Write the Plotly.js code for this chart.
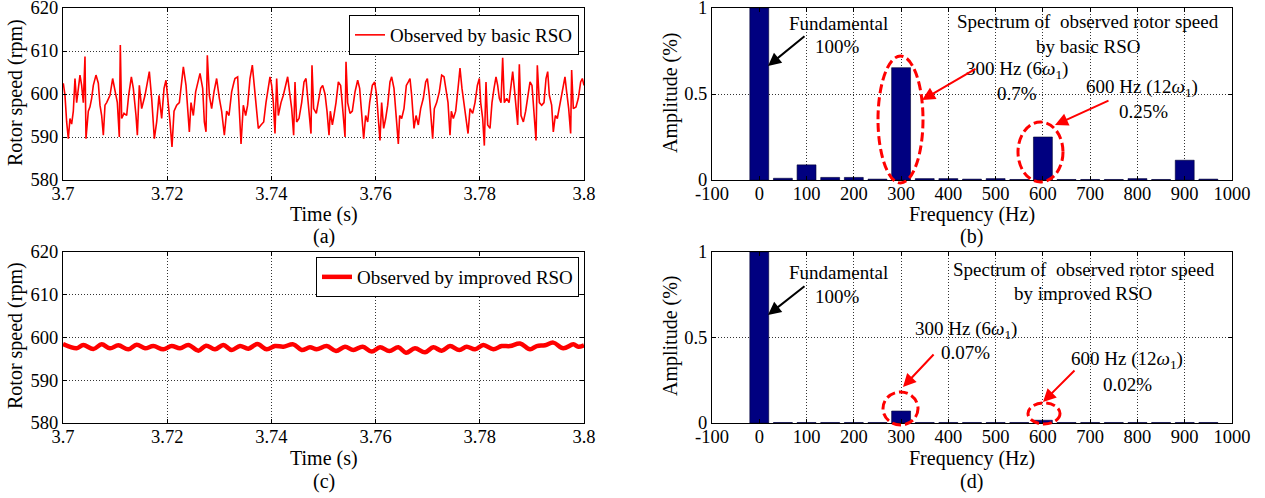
<!DOCTYPE html>
<html><head><meta charset="utf-8">
<script src="https://cdn.plot.ly/plotly-3.0.1.min.js"></script>
<style>html,body{margin:0;padding:0;background:#fff;} #chart{width:1265px;height:498px;}</style>
</head><body><div id="chart"></div>
<script>
// ---- data ----
const timeBasic = [
3.70006,3.70038,3.70070,3.70102,3.70134,3.70166,3.70198,3.70230,3.70262,3.70294,3.70326,3.70358,3.70390,3.70422,3.70441,3.70486,3.70518,3.70550,3.70582,3.70633,
3.70678,3.70710,3.70742,3.70774,3.70806,3.70838,3.70902,3.70953,3.70998,3.71043,3.71081,3.71100,3.71126,3.71171,3.71222,3.71260,3.71312,3.71350,3.71401,3.71427,
3.71465,3.71510,3.71574,3.71619,3.71657,3.71702,3.71753,3.71798,3.71843,3.71894,3.71939,3.71977,3.72022,3.72054,3.72092,3.72131,3.72182,3.72233,3.72278,3.72310,
3.72361,3.72393,3.72425,3.72457,3.72502,3.72546,3.72598,3.72630,3.72681,3.72713,3.72745,3.72770,3.72809,3.72853,3.72898,3.72949,3.73001,3.73045,3.73097,3.73141,
3.73186,3.73237,3.73282,
3.73301,3.73352,3.73378,3.73417,3.73461,3.73506,3.73544,3.73589,3.73634,3.73672,3.73704,3.73749,3.73800,3.73852,3.73896,3.73941,3.73973,3.74005,3.74037,3.74069,
3.74101,3.74133,3.74184,3.74229,3.74274,3.74312,3.74357,3.74389,3.74427,3.74453,3.74485,3.74530,3.74581,3.74626,3.74664,3.74696,3.74722,3.74760,3.74779,3.74811,
3.74862,3.74901,3.74946,3.74984,3.75029,3.75067,3.75106,3.75131,3.75170,3.75201,3.75240,3.75285,3.75329,3.75368,3.75413,3.75432,3.75464,3.75509,3.75553,3.75605,
3.75656,3.75694,3.75733,3.75771,3.75809,3.75848,3.75886,3.75937,3.75982,3.76020,3.76052,3.76084,3.76116,3.76155,3.76193,3.76232,3.76276,3.76308,3.76353,3.76392,
3.76436,3.76462,3.76500,3.76545,3.76590,3.76628,
3.76660,3.76692,3.76737,3.76776,3.76820,3.76865,3.76916,3.76961,3.76993,3.77031,3.77057,3.77095,3.77127,3.77172,3.77223,3.77268,3.77313,3.77351,3.77390,3.77428,
3.77454,3.77492,3.77537,3.77588,3.77620,3.77658,3.77697,3.77735,3.77774,3.77812,3.77863,3.77908,3.77953,3.77991,3.78017,3.78055,3.78087,3.78119,3.78151,3.78196,
3.78234,3.78273,3.78311,3.78343,3.78375,3.78407,3.78439,3.78471,3.78516,3.78561,3.78593,3.78631,3.78663,3.78695,3.78727,3.78759,3.78791,3.78836,3.78880,3.78925,
3.78964,3.79002,3.79040,3.79079,3.79104,3.79143,3.79188,3.79232,3.79271,3.79303,3.79335,3.79379,3.79411,3.79450,3.79488,3.79539,3.79591,3.79635,3.79667,3.79706,
3.79744,3.79763,3.79795,3.79846,3.79891,3.79936,3.79968,3.80000];
const speedBasic = [
602.5,599.7,593.5,589.6,594.3,593.0,596.0,603.6,598.0,602.0,604.4,602.0,598.0,608.7,589.6,596.0,597.0,599.0,602.0,604.4,
602.5,597.4,595.0,590.4,597.4,598.0,599.7,603.6,600.5,598.0,590.0,611.4,594.3,595.5,595.0,599.7,604.0,601.3,595.0,590.4,
602.0,596.6,599.7,602.8,605.2,599.0,589.6,593.5,599.7,594.3,601.3,603.2,598.0,593.5,587.7,596.0,597.4,598.0,602.8,606.3,
602.0,596.0,591.2,598.0,595.0,600.5,602.8,604.8,601.3,593.5,591.2,609.0,599.7,596.6,600.5,603.6,599.0,596.0,590.4,596.0,
595.0,600.5,602.8,
603.6,604.0,598.0,588.4,597.4,595.0,597.4,603.6,606.7,602.0,598.0,592.0,592.8,593.5,598.0,601.3,604.0,602.0,598.0,590.8,
603.6,595.0,598.0,599.7,602.0,604.0,599.7,596.6,590.4,602.8,593.5,594.3,598.0,602.8,603.6,599.7,596.0,590.8,606.7,596.6,
595.5,598.0,601.3,602.0,600.0,596.0,590.4,596.0,592.8,595.0,598.0,602.8,602.0,596.6,590.0,607.5,598.0,595.5,596.0,600.5,
603.2,601.3,595.0,589.6,595.0,593.5,598.0,602.0,602.8,599.7,594.3,589.2,598.0,592.0,594.3,597.4,602.8,604.0,601.3,596.0,
588.4,595.0,594.3,596.6,602.0,602.8,
603.6,599.7,592.0,595.0,592.8,596.6,599.0,602.8,603.6,599.7,595.0,589.6,596.6,598.0,600.5,604.4,604.0,601.3,598.0,590.4,
596.0,594.3,596.0,602.0,606.0,601.3,597.4,594.3,590.8,596.6,595.5,598.0,602.0,603.6,598.0,594.3,588.0,602.8,592.8,592.0,
598.0,601.3,604.0,602.0,599.0,598.0,608.4,598.0,599.0,598.0,602.0,605.2,601.3,597.4,592.8,606.9,595.0,593.5,596.0,599.7,
602.8,602.0,596.6,589.2,606.7,598.0,597.4,598.0,603.6,605.2,599.7,597.4,591.2,595.0,594.3,598.0,601.3,604.0,600.5,596.6,
590.8,605.6,596.6,597.0,599.0,602.8,603.6,602.0];

const timeImproved = [
3.70000,3.70262,3.70390,3.70582,3.70742,3.70902,3.71062,3.71254,3.71414,3.71574,3.71734,3.71926,3.72086,3.72246,3.72406,3.72598,
3.72745,3.72917,3.73077,3.73237,3.73397,3.73557,3.73730,3.73909,3.74069,3.74229,3.74421,3.74581,3.74741,3.74869,3.75061,3.75240,
3.75413,3.75573,3.75752,3.75925,3.76085,3.76264,3.76436,3.76584,3.76756,3.76948,3.77108,3.77268,3.77428,3.77607,3.77748,3.77908,
3.78068,3.78260,3.78420,3.78580,3.78772,3.78964,3.79092,3.79252,3.79411,3.79603,3.79795,3.79891,3.80000];
const speedImproved = [
598.48,597.47,598.25,597.31,598.40,597.47,598.17,597.24,598.33,597.47,598.01,597.24,598.01,597.47,598.25,596.92,
598.09,597.24,598.25,597.08,598.01,597.39,598.48,597.24,598.01,597.85,598.40,597.08,597.70,597.24,598.00,596.84,
597.85,597.08,597.85,596.70,597.70,596.84,597.70,596.45,597.47,596.53,597.70,596.92,598.00,597.08,597.85,597.24,
598.25,597.24,598.00,598.00,598.60,597.24,598.00,598.17,598.80,597.47,598.40,597.85,598.17];

const freqHz = [0,50,100,150,200,250,300,350,400,450,500,550,600,650,700,750,800,850,900,950];
const ampBasic = [1.0,0.01,0.088,0.015,0.015,0.005,0.653,0.008,0.008,0.005,0.008,0.003,0.25,0.003,0.003,0.003,0.008,0.003,0.115,0.005];
const ampImproved = [1.0,0.003,0.003,0.003,0.003,0.003,0.07,0.003,0.003,0.003,0.003,0.003,0.016,0.003,0.003,0.003,0.003,0.003,0.003,0.003];

const timeTicks = [3.7,3.72,3.74,3.76,3.78,3.8];
const timeTickText = ['3.7','3.72','3.74','3.76','3.78','3.8'];
const speedTicks = [580,590,600,610,620];
const speedTickText = ['580','590','600','610','620'];
const freqTicks = [-100,0,100,200,300,400,500,600,700,800,900,1000];
const freqTickText = ['-100','0','100','200','300','400','500','600','700','800','900','1000'];
const ampTicks = [0,0.5,1];
const ampTickText = ['0','0.5','1'];

const seriesNames = ['Observed by basic RSO','Observed by improved RSO'];

// ---- layout helpers ----
const W = 1265, H = 498;
const px = x => x / W, py = y => 1 - y / H;
const FONT = 'Liberation Serif';

function axis(extra) {
  return Object.assign({
    showline: true, linecolor: '#000', linewidth: 1, mirror: 'ticks',
    ticks: 'inside', ticklen: 4, tickcolor: '#000',
    showgrid: true, gridcolor: '#333', griddash: '1px,2px', gridwidth: 1,
    zeroline: false, fixedrange: true, ticklabeloverflow: 'allow',
    tickfont: {family: FONT, size: 18.5, color: '#000'}
  }, extra);
}

const traces = [
  {type: 'scatter', mode: 'lines', x: timeBasic, y: speedBasic, name: seriesNames[0],
   xaxis: 'x', yaxis: 'y', line: {color: '#ff0000', width: 1.6}, legend: 'legend'},
  {type: 'bar', x: freqHz, y: ampBasic, width: 40, xaxis: 'x2', yaxis: 'y2', showlegend: false,
   marker: {color: '#000080', line: {color: '#000033', width: 0.6}}},
  {type: 'scatter', mode: 'lines', x: timeImproved, y: speedImproved, name: seriesNames[1],
   xaxis: 'x3', yaxis: 'y3', line: {color: '#ff0000', width: 4.5, shape: 'spline', smoothing: 1}, legend: 'legend2'},
  {type: 'bar', x: freqHz, y: ampImproved, width: 40, xaxis: 'x4', yaxis: 'y4', showlegend: false,
   marker: {color: '#000080', line: {color: '#000033', width: 0.6}}}
];

const leftDom = [px(63), px(584)], rightDom = [px(712), px(1232)];
const topDom = [py(180), py(8)], botDom = [py(423), py(252)];

function txt(text, x, y, size, extra) {
  return Object.assign({text: text, x: px(x), y: py(y), xref: 'paper', yref: 'paper',
    showarrow: false, xanchor: 'center', yanchor: 'middle',
    font: {family: FONT, size: size || 19, color: '#000'}}, extra || {});
}
function arrow(hx, hy, tx, ty, color) {
  return {text: '', x: px(hx), y: py(hy), xref: 'paper', yref: 'paper', showarrow: true,
    ax: tx - hx, ay: ty - hy, arrowhead: 2, arrowsize: 1.3, arrowwidth: 2, arrowcolor: color, standoff: 0};
}
function ellipse(x0, y0, x1, y1) {
  return {type: 'circle', xref: 'paper', yref: 'paper', x0: px(x0), x1: px(x1), y0: py(y1), y1: py(y0),
    line: {color: '#ff0000', width: 3, dash: '9px,4px'}};
}
const omega = '<i>ω</i><sub>1</sub>';

const annotations = [
  // axis titles
  txt('Rotor speed (rpm)', 15, 93, 20, {textangle: -90}),
  txt('Rotor speed (rpm)', 15, 336, 20, {textangle: -90}),
  txt('Amplitude (%)', 670, 93, 20, {textangle: -90}),
  txt('Amplitude (%)', 670, 336, 20, {textangle: -90}),
  txt('Time (s)', 324, 214, 20), txt('Time (s)', 324, 458, 20),
  txt('Frequency (Hz)', 972, 214, 20), txt('Frequency (Hz)', 972, 458, 20),
  txt('(a)', 324, 237, 20), txt('(b)', 971, 237, 20),
  txt('(c)', 324, 481, 20), txt('(d)', 971, 481, 20),
  // panel (b)
  txt('Fundamental', 839, 23), txt('100%', 838, 47),
  txt('Spectrum of\u00a0 observed rotor speed', 1088, 22), txt('by basic RSO', 1088, 47),
  txt('300 Hz (6' + omega + ')', 1017, 70), txt('0.7%', 1017, 93),
  txt('600 Hz (12' + omega + ')', 1142, 88), txt('0.25%', 1143, 111),
  arrow(768, 66, 806, 35, '#000'),
  arrow(922, 100, 977, 68, '#ff0000'),
  arrow(1055, 125, 1110, 100, '#ff0000'),
  // panel (d)
  txt('Fundamental', 839, 272), txt('100%', 838, 296),
  txt('Spectrum of\u00a0 observed rotor speed', 1084, 269), txt('by improved RSO', 1083, 293),
  txt('300 Hz (6' + omega + ')', 966, 330), txt('0.07%', 965, 352),
  txt('600 Hz (12' + omega + ')', 1127, 360), txt('0.02%', 1127, 384),
  arrow(768, 315, 806, 285, '#000'),
  arrow(903, 387, 935, 353, '#ff0000'),
  arrow(1043, 402, 1076, 369, '#ff0000')
];

const shapes = [
  ellipse(878, 56, 923, 183),
  ellipse(1018, 122, 1063, 182),
  ellipse(883, 392, 918, 425),
  ellipse(1028, 403, 1060, 424)
];

const legendStyle = {xref: 'paper', yref: 'paper', xanchor: 'right', yanchor: 'top', bgcolor: '#fff',
  bordercolor: '#000', borderwidth: 1, font: {family: FONT, size: 19, color: '#000'}};

const layout = {
  width: W, height: H, autosize: false,
  margin: {l: 0, r: 0, t: 0, b: 0, pad: 0},
  paper_bgcolor: '#fff', plot_bgcolor: '#fff',
  font: {family: FONT, color: '#000'},
  showlegend: true,
  xaxis: axis({domain: leftDom, anchor: 'y', range: [3.7, 3.8], tickvals: timeTicks, ticktext: timeTickText, ticklabelstandoff: -3}),
  yaxis: axis({domain: topDom, anchor: 'x', range: [580, 620], tickvals: speedTicks, ticktext: speedTickText}),
  xaxis2: axis({domain: rightDom, anchor: 'y2', range: [-100, 1000], tickvals: freqTicks, ticktext: freqTickText, ticklabelstandoff: -3}),
  yaxis2: axis({domain: topDom, anchor: 'x2', range: [0, 1], tickvals: ampTicks, ticktext: ampTickText}),
  xaxis3: axis({domain: leftDom, anchor: 'y3', range: [3.7, 3.8], tickvals: timeTicks, ticktext: timeTickText, ticklabelstandoff: -3}),
  yaxis3: axis({domain: botDom, anchor: 'x3', range: [580, 620], tickvals: speedTicks, ticktext: speedTickText}),
  xaxis4: axis({domain: rightDom, anchor: 'y4', range: [-100, 1000], tickvals: freqTicks, ticktext: freqTickText, ticklabelstandoff: -3}),
  yaxis4: axis({domain: botDom, anchor: 'x4', range: [0, 1], tickvals: ampTicks, ticktext: ampTickText}),
  legend: Object.assign({x: px(579), y: py(15)}, legendStyle),
  legend2: Object.assign({x: px(579), y: py(257)}, legendStyle),
  annotations: annotations,
  shapes: shapes
};

Plotly.newPlot('chart', traces, layout, {displayModeBar: false, staticPlot: true});
</script>
</body></html>
